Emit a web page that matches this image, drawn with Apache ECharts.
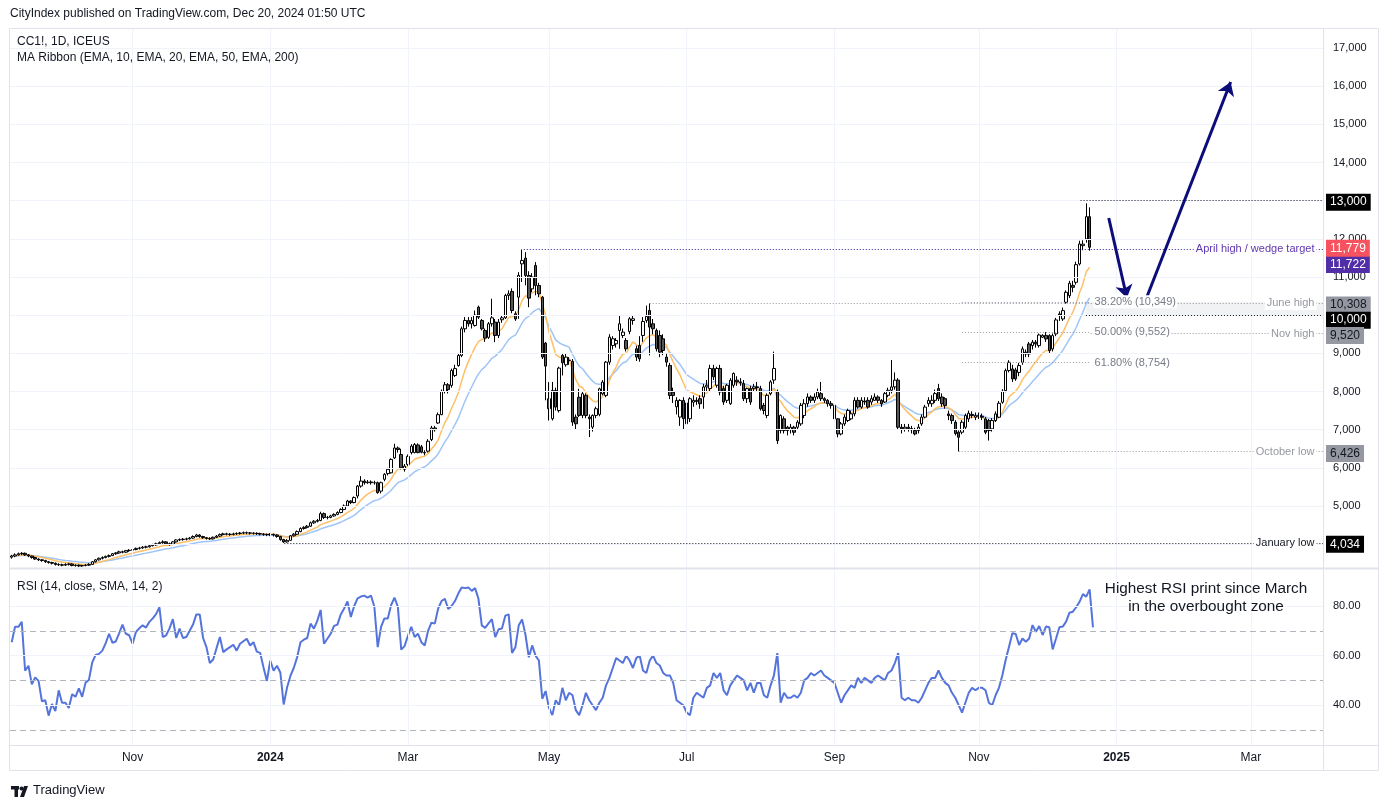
<!DOCTYPE html>
<html><head><meta charset="utf-8">
<script src="https://cdn.jsdelivr.net/npm/echarts@6/dist/echarts.min.js"></script>
<style>html,body{margin:0;padding:0;background:#fff;}#c{width:1386px;height:808px;}</style>
</head><body><div id="c"></div>
<script>
// ---------- categories ----------
const startDate = '2023-09-12';
const totalSlots = 391;
const holidays = ['2023-11-23','2023-12-25','2024-01-01','2024-01-15','2024-02-19','2024-03-29','2024-05-27','2024-06-19','2024-07-04','2024-09-02','2024-11-28','2024-12-25','2025-01-01','2025-01-20','2025-02-17'];
const monthTicks = [['2023-11-01','Nov',0],['2024-01-02','2024',1],['2024-03-01','Mar',0],['2024-05-01','May',0],['2024-07-01','Jul',0],['2024-09-03','Sep',0],['2024-11-01','Nov',0],['2025-01-02','2025',1],['2025-03-03','Mar',0]];

// ---------- candles [open, close, low, high] from 2023-09-12 ----------
const candles = [
[3660,3690,3620,3720],[3690,3720,3660,3760],[3720,3750,3700,3780],[3750,3760,3710,3790],[3760,3720,3690,3780],[3720,3690,3660,3740],[3690,3650,3620,3700],[3650,3610,3590,3670],[3610,3590,3560,3630],[3590,3570,3540,3610],
[3570,3540,3510,3590],[3540,3520,3490,3560],[3520,3500,3470,3540],[3500,3470,3440,3520],[3470,3460,3430,3500],[3460,3450,3420,3490],[3450,3470,3430,3500],[3470,3480,3440,3510],[3480,3440,3420,3500],[3440,3450,3410,3470],
[3450,3430,3400,3470],[3430,3440,3410,3460],[3440,3450,3420,3480],[3450,3470,3430,3500],[3470,3540,3460,3560],[3540,3590,3520,3610],[3590,3630,3570,3650],[3630,3650,3600,3680],[3650,3680,3630,3700],[3680,3700,3650,3730],
[3700,3750,3690,3770],[3750,3770,3720,3790],[3770,3800,3750,3830],[3800,3790,3760,3830],[3790,3830,3770,3850],[3830,3840,3800,3870],[3840,3860,3810,3880],[3860,3890,3840,3910],[3890,3900,3860,3930],[3900,3920,3880,3950],
[3920,3930,3890,3960],[3930,3960,3910,3990],[3960,3980,3940,4010],[3980,4010,3960,4040],[4010,4040,3990,4070],[4040,4060,4010,4100],[4060,4010,3990,4080],[4010,4000,3960,4040],[4000,4060,3990,4080],[4060,4110,4040,4130],
[4110,4120,4080,4150],[4120,4130,4090,4160],[4130,4140,4100,4170],[4140,4160,4120,4190],[4160,4200,4140,4230],[4200,4240,4180,4270],[4240,4200,4170,4260],[4200,4170,4140,4220],[4170,4150,4120,4190],[4150,4140,4110,4180],
[4140,4180,4120,4200],[4180,4210,4160,4240],[4210,4250,4190,4280],[4250,4270,4230,4300],[4270,4260,4230,4300],[4260,4255,4220,4290],[4255,4270,4230,4300],[4270,4280,4240,4310],[4280,4290,4250,4320],[4290,4300,4260,4330],
[4300,4295,4260,4330],[4295,4290,4250,4320],[4290,4285,4250,4310],[4285,4275,4240,4310],[4275,4265,4230,4300],[4265,4255,4220,4290],[4255,4250,4210,4280],
// 2024
[4250,4255,4210,4290],[4255,4240,4200,4280],[4240,4200,4170,4260],[4200,4120,4090,4220],[4120,4060,4034,4140],[4060,4100,4040,4130],[4100,4220,4090,4240],[4220,4260,4200,4290],[4260,4330,4240,4360],[4330,4410,4310,4440],
[4410,4440,4380,4470],[4440,4470,4410,4500],[4470,4560,4450,4590],[4560,4600,4530,4630],[4600,4620,4570,4660],[4620,4800,4600,4850],[4800,4700,4660,4830],[4700,4700,4650,4740],[4700,4740,4680,4770],[4740,4780,4720,4810],
[4780,4830,4760,4860],[4830,4910,4810,4940],[4910,5000,4890,5040],[5000,5130,4980,5160],[5130,5090,5050,5150],[5090,5220,5070,5250],[5262,5522,5200,5550],[5522,5653,5480,5783],[5653,5610,5560,5700],[5610,5630,5580,5680],
[5630,5610,5560,5670],[5610,5610,5560,5660],[5610,5350,5320,5640],[5390,5610,5330,5640],[5700,5830,5650,5860],[5850,5960,5800,6000],[5870,6220,5850,6250],[6260,6520,6230,6630],[6520,6480,6400,6560],[6350,6000,5960,6500],
[5960,6045,5900,6100],[6090,6300,6050,6350],[6400,6570,6350,6620],[6400,6610,6380,6650],[6600,6400,6380,6640],[6550,6410,6380,6600],[6400,6390,6330,6460],[6436,6697,6400,6750],[6740,7045,6700,7100],[7045,7000,6950,7100],
[7175,7393,7150,7450],[7393,8002,7380,8050],[8002,8176,7950,8250],[8176,8050,7950,8220],[8160,8550,8100,8600],[8420,8600,8380,8700],[8680,8945,8650,8990],[8945,9643,8900,9700],[9643,9861,9550,9950],[9861,9774,9700,9950],
[9774,9861,9650,9950],[9730,10000,9700,10120],[10210,9948,9900,10250],[9861,9643,9600,9900],[9600,9400,9300,9650],[9420,9774,9380,9820],[9774,9930,9700,10430],[9818,9468,9294,9900],[9468,9818,9400,9900],[9880,9930,9800,10000],
[9930,10516,9900,10560],[10516,10560,10400,10650],[10621,10123,10050,10700],[10036,9900,9850,10100],[10472,11040,9905,11127],[11345,11433,10870,11722],[11494,11040,10780,11650],[11040,10446,10210,11150],[10690,11000,10600,11100],[11302,10778,10520,11390],
[10778,10560,10470,10850],[10472,8901,8850,10500],[9267,8665,7770,9300],[7810,7548,7240,8246],[7286,8028,7240,8250],[8028,7591,7500,8100],[7500,8613,7450,8650],[8945,8752,8420,8990],[8700,8900,8650,9000],[8820,8810,8700,8900],
[8790,7199,7100,8850],[7330,7155,7000,7400],[7850,7373,7330,8070],[7373,7941,7300,8000],[7900,7373,7300,7950],[7330,7286,6806,7400],[7068,7373,6950,7400],[7373,7548,7300,7600],[7400,8070,7350,8100],[7941,8246,7900,8300],
[7897,8770,7850,8800],[8770,9425,8700,9500],[9206,9381,9100,9450],[9250,9337,9150,9400],[9600,9774,9119,9992],[9468,9556,9400,9650],[9337,9119,9050,9400],[9573,9905,9500,9950],[9861,9905,9750,10000],[9119,8901,8800,9200],
[9206,8857,8780,9450],[9468,9835,9300,9950],[9861,9966,9800,10250],[10123,9687,8945,10308],[9774,9643,9500,9900],[9600,9119,9050,9650],[9468,9032,8900,9600],[9381,9076,8950,9500],[8901,8770,8650,9000],[8683,7897,7800,8750],
[7984,7897,7700,8100],[7600,7766,7400,7850],[7330,7766,7100,7800],[7766,7286,7000,7850],[7700,7155,6980,7800],[7286,7810,7200,7850],[7720,7768,7600,7900],[7768,7740,7650,7850],[7812,7680,7548,7900],[7856,8120,7548,8200],
[8120,8164,8000,8300],[8076,8604,8000,8700],[8604,8384,8300,8700],[8164,8604,8100,8650],[8604,7988,7900,8700],[8076,7724,7650,8150],[7768,8164,7700,8200],[7680,8296,7650,8350],[8164,8472,8100,8500],[8296,8252,8150,8400],
[8252,8230,8150,8350],[8208,7812,7750,8300],[7812,8076,7700,8100],[8076,7724,7650,8150],[8076,8120,8000,8200],[8120,8100,8000,8250],[8076,7548,7500,8150],[7636,7504,7400,7700],[7372,7900,7300,7950],[7944,8252,7900,8300],
[8300,8604,8200,9044],[8000,6712,6624,8050],[6976,7372,6900,7400],[7284,6976,6900,7350],[7064,6976,6850,7100],[7000,7064,6900,7150],[7064,6932,6850,7100],[7064,7196,7000,7250],[7152,7636,7100,7700],[7372,7680,7300,7800],
[7680,7856,7600,7950],[7856,7768,7700,7900],[7768,7856,7700,7950],[7856,7988,7800,8076],[7944,7812,7750,8250],[7812,7768,7700,7850],[7768,7680,7600,7800],[7680,7636,7550,7750],[7636,7284,7200,7700],[7284,6888,6800,7300],
[6888,7152,6850,7200],[7152,7328,7100,7400],[7240,7504,7200,7550],[7284,7416,7250,7500],[7416,7768,7350,7850],[7768,7592,7550,7850],[7592,7768,7550,7850],[7750,7724,7650,7850],[7768,7592,7550,7850],[7724,7812,7650,7900],
[7768,7856,7750,7950],[7856,7768,7700,7900],[7768,7680,7600,7800],[7724,7944,7700,8000],[7900,8032,7850,8100],[8032,8120,7950,8824],[8120,8296,8050,8500],[8296,7064,7000,8350],[7064,7020,6900,7150],[7020,7064,6950,7150],
[7064,7030,6950,7150],[7030,7000,6900,7100],[6976,6888,6850,7050],[6976,7064,6900,7150],[7152,7328,7100,7400],[7328,7592,7300,7650],[7680,7768,7600,7850],[7680,7768,7600,7900],[7768,7944,7700,8050],[8076,7812,7750,8200],
[7856,7680,7600,7950],[7812,7636,7550,7850],[7413,7369,7250,7500],[7369,7238,7150,7420],[7195,6900,6850,7250],[6933,6802,6426,6980],[6933,7195,6880,7250],[7064,7369,7000,7420],[7282,7430,7200,7500],[7400,7369,7300,7480],
[7326,7369,7250,7450],[7369,7350,7280,7450],[7350,7326,7250,7420],[7282,6933,6880,7330],[7238,6976,6714,7280],[7020,7238,6950,7300],[7238,7413,7200,7480],[7326,7692,7300,7750],[7718,8006,7680,8060],[8024,8548,7980,8600],
[8548,8766,8500,8820],[8591,8330,8250,8700],[8565,8330,8280,8620],[8500,8679,8400,8750],[8766,9115,8700,9180],[9028,8984,8900,9100],[9246,8984,8900,9300],[9202,9290,9100,9350],[9290,9246,9150,9350],[9202,9480,9150,9520],
[9421,9470,9400,9500],[9470,9377,9300,9560],[9464,9071,9000,9500],[9115,9464,9050,9520],[9508,9875,9450,9930],[10032,9988,9850,10100],[9901,10119,9850,10200],[10337,10599,10300,10650],[10512,10835,10450,10900],[10780,10730,10600,10900],
[10861,11324,10800,11400],[11341,11865,11300,11950],[11821,11860,11700,11960],[11996,12581,11900,12931],[12581,11779,11690,12825]
];

// ---------- RSI(14) values from 2023-09-12 ----------
const rsi = [
65.4,71.6,71.6,73.6,53.9,55.9,48.4,51.2,49.8,41.6,42.0,35.8,40.5,37.6,46.0,41.0,41.0,38.9,44.4,43.4,46.8,43.4,49.1,50.2,57.3,60.3,60.7,62.0,
65,68.8,65.2,65.7,69,72.5,68.8,68.2,64.8,69.5,71,72.2,71.3,73.6,75,76.7,79.5,67.5,68.2,71,74.7,67.1,70.9,67.1,67.5,70,72.5,76.6,76.6,67.1,63.4,57,58.4,63,67.5,61.4,62.5,63.4,64.4,62,64.8,65.8,66.8,64.1,65.4,61.6,61.1,55.2,49.8,
58,53.9,55.9,53.2,40.3,47.1,51.8,55,59.3,65.4,66.4,67.1,72.9,70.9,74,78.4,64.8,66.8,68.8,72,72.5,76.6,79,81.8,75.6,80,83.1,83.8,84.2,83.4,84.2,79.7,63.4,71.6,75,75,80.4,83.4,79.7,62.4,63.8,68,71.6,67.5,68.8,65.4,64.1,70,73.3,72.9,79,82,82.9,78.8,80,82,85,87.5,87.2,87.5,86.1,87.2,82.9,72.2,71.2,73,74.7,67.5,70.6,70.9,76.1,76.6,61.1,63.4,72.2,74.6,68.4,59.3,64.1,60,58,42.6,45.7,38.9,36,42,40,47,
42,45,44,38,36,40,45,42,40,38,41,43,48,51,55,59,58,57,60,58,55,59,60,54,53,58,60,57,56,53,52,52,49,42,41,40,37,36,43,45,44,43,47,48,53,51,53,46,44,48,50,52,51,50,46,49,45,49,49,44,43,48,52,61,41,45,43,43,44,43,45,50,51,53,52,53,54,52,51,50,49,45,41,44,46,48,47,51,49,51,50,49,51,52,51,50,53,54,57,61,43,42,43,42,42,41,43,46,49,51,51,54,51,49,48,45,43,40,37,41,45,47,46,47,47,46,41,40,44,47,
52,58.2,63.6,69,68.7,64.3,66.9,65.6,66.9,72.3,69.6,71.9,68.3,71.7,71.4,62.5,66.9,71.4,71.7,73.7,77.3,77.7,79.5,81.7,84.8,83.8,86.7,71.4
];

// ---------- axis ticks ----------
const priceLabels = [5000,6000,7000,8000,9000,11000,12000,14000,15000,16000,17000];
const priceGrid = [4000,5000,6000,7000,8000,9000,10000,11000,12000,13000,14000,15000,16000,17000];
const rsiLabels = [40,60,80];
const rsiBands = [30,50,70];

// ---------- annotations ----------
const levelLines = [
  {v:13000, from:['2024-12-16',0.3], color:'#131722', box:'13,000', bg:'#000000', fg:'#ffffff', dy:1.5},
  {v:11722, from:['2024-04-19',0.5], color:'#311b92', box:'11,722', bg:'#512da8', fg:'#ffffff', dy:15, text:'April high / wedge target', tc:'#5e35b1'},
  {v:10308, from:['2024-06-13',0], color:'#9598a1', box:'10,308', bg:'#9598a1', fg:'#131722', dy:1.5, text:'June high', tc:'#9598a1'},
  {v:10000, from:['2024-12-17',0.9], color:'#131722', box:'10,000', bg:'#000000', fg:'#ffffff', dy:5},
  {v:9520, from:['2024-12-19',0.3], color:'#9598a1', box:'9,520', bg:'#9598a1', fg:'#131722', dy:2, text:'Nov high', tc:'#9598a1'},
  {v:6426, from:['2024-10-24',0], color:'#9598a1', box:'6,426', bg:'#9598a1', fg:'#131722', dy:2, text:'October low', tc:'#9598a1'},
  {v:4034, from:['2024-01-08',0.2], color:'#131722', box:'4,034', bg:'#000000', fg:'#ffffff', dy:1.5, text:'January low', tc:'#131722'}
];
const lastPrice = {v:11779, box:'11,779', bg:'#f7525f', fg:'#ffffff'};
const fibLevels = [['38.20%',10349],['50.00%',9552],['61.80%',8754]];
const fibSpan = [['2024-10-24',0.95],['2024-12-19',0.3]];
const band = [['2024-12-17',0.9],10000,10349];
const arrows = [
  [['2024-12-27',0.7],12546,['2025-01-07',0.1],10450],
  [['2025-01-14',0.7],10397,['2025-02-21',0],16109]
];
const textAnchor = ['2025-03-31',0];

// ---------- helpers ----------
function tradingDays(start, n, hol) {
  const out = [], hs = new Set(hol);
  const d = new Date(start + 'T00:00:00Z');
  while (out.length < n) {
    const wd = d.getUTCDay(), s = d.toISOString().slice(0,10);
    if (wd !== 0 && wd !== 6 && !hs.has(s)) out.push(s);
    d.setUTCDate(d.getUTCDate() + 1);
  }
  return out;
}
function ema(vals, n) { const k = 2/(n+1); let e = vals[0]; return vals.map((v,i) => (e = i === 0 ? v : v*k + e*(1-k))); }
const dates = tradingDays(startDate, totalSlots, holidays);
const at = (p) => dates.indexOf(p[0]) + p[1];
const closes = candles.map(r => r[1]);
const ema10 = ema(closes, 10).map(v => Math.round(v));
const ema20 = ema(closes, 20).map(v => Math.round(v));
const tickIdx = {}; monthTicks.forEach(t => { tickIdx[dates.indexOf(t[0])] = t; });
const FONT = "'Liberation Sans', Arial, sans-serif";
const jMax = totalSlots - 0.5;

const gridLineStyle = {color:'#f0f3fa', width:1, type:'solid'};
const mainGridLines = priceGrid.map(v => ({yAxis:v})).concat(monthTicks.map(t => ({xAxis: dates.indexOf(t[0])})));
const rsiGridLines = rsiLabels.map(v => ({yAxis:v})).concat(monthTicks.map(t => ({xAxis: dates.indexOf(t[0])})));

const levelML = [];
levelLines.forEach(L => {
  levelML.push([{coord:[at(L.from), L.v], lineStyle:{color:L.color, type:[1,2], width:1},
    label:{show:true, position:'end', distance:3, formatter:L.box, backgroundColor:L.bg, color:L.fg, padding:[3,4,2,4], fontSize:12, fontFamily:FONT, offset:[0,L.dy]}},
    {coord:[jMax, L.v]}]);
});
levelML.push([{coord:[jMax-1, lastPrice.v], lineStyle:{color:'rgba(255,255,255,0)', width:0},
  label:{show:true, position:'end', distance:3, formatter:lastPrice.box, backgroundColor:lastPrice.bg, color:lastPrice.fg, padding:[3,4,2,4], fontSize:12, fontFamily:FONT, offset:[0,1]}},
  {coord:[jMax, lastPrice.v]}]);
fibLevels.forEach(f => {
  levelML.push([{coord:[at(fibSpan[0]), f[1]], lineStyle:{color:'#9598a1', type:[1,2], width:1},
    label:{show:true, position:'end', distance:3, formatter:f[0] + ' (' + f[1].toLocaleString('en-US') + ')', color:'#787b86', fontSize:11, fontFamily:FONT, backgroundColor:'#ffffff', padding:[1,1]}},
    {coord:[at(fibSpan[1]), f[1]]}]);
});
const levelMP = levelLines.filter(L => L.text).map(L => ({
  coord:[at(textAnchor), L.v], symbol:'rect', symbolSize:1, itemStyle:{color:'rgba(0,0,0,0)'},
  label:{show:true, position:'left', distance:1, formatter:L.text, color:L.tc, fontSize:11, fontFamily:FONT, backgroundColor:'#ffffff', padding:[1,2]}
}));
const arrowML = arrows.map(a => [{coord:[at(a[0]), a[1]]},{coord:[at(a[2]), a[3]]}]);

const chart = echarts.init(document.getElementById('c'), null, {renderer:'canvas'});
chart.setOption({
  animation:false,
  backgroundColor:'#ffffff',
  grid:[
    {left:10, right:63, top:29, height:539},
    {left:10, right:63, top:569, height:176}
  ],
  xAxis:[
    {type:'category', gridIndex:0, data:dates, show:false},
    {type:'category', gridIndex:1, data:dates, axisLine:{show:false}, axisTick:{show:false}, splitLine:{show:false},
      axisLabel:{interval:(i) => !!tickIdx[i], margin:7, fontSize:12, fontFamily:FONT, color:'#131722',
        formatter:(v,i) => { const t = tickIdx[i]; if (!t) return ''; return t[2] ? '{b|' + t[1] + '}' : t[1]; },
        rich:{b:{fontWeight:'bold', fontSize:12, fontFamily:FONT, color:'#131722'}}}},
    {type:'value', gridIndex:0, min:-0.5, max:jMax, show:false},
    {type:'value', gridIndex:1, min:-0.5, max:jMax, show:false}
  ],
  yAxis:[
    {type:'value', gridIndex:0, position:'right', min:3375.5, max:17497.8, axisLine:{show:false}, axisTick:{show:false}, splitLine:{show:false},
      axisLabel:{customValues:priceLabels, margin:10, fontSize:11, fontFamily:FONT, color:'#131722', formatter:(v) => v.toLocaleString('en-US')}},
    {type:'value', gridIndex:1, position:'right', min:23.95, max:94.92, axisLine:{show:false}, axisTick:{show:false}, splitLine:{show:false},
      axisLabel:{customValues:rsiLabels, margin:10, fontSize:11, fontFamily:FONT, color:'#131722', formatter:(v) => v.toFixed(2)}}
  ],
  series:[
    {type:'scatter', name:'gridMain', xAxisIndex:2, yAxisIndex:0, data:[[0,4000]], symbolSize:0, silent:true, z:0,
      markLine:{silent:true, symbol:['none','none'], label:{show:false}, lineStyle:gridLineStyle, data:mainGridLines, animation:false}},
    {type:'scatter', name:'gridRsi', xAxisIndex:3, yAxisIndex:1, data:[[0,50]], symbolSize:0, silent:true, z:0,
      markLine:{silent:true, symbol:['none','none'], label:{show:false}, lineStyle:gridLineStyle,
        data:rsiGridLines.concat(rsiBands.map(v => ({yAxis:v, lineStyle:{color:'#b2b5be', type:[6,4], width:1}}))), animation:false}},
    {type:'line', name:'EMA 20', xAxisIndex:0, yAxisIndex:0, data:ema20, showSymbol:false, silent:true, z:1,
      lineStyle:{color:'#9fc5f8', width:1.5}},
    {type:'line', name:'EMA 10', xAxisIndex:0, yAxisIndex:0, data:ema10, showSymbol:false, silent:true, z:1,
      lineStyle:{color:'#ffbf66', width:1.5}},
    {type:'candlestick', name:'CC1!', xAxisIndex:0, yAxisIndex:0, data:candles, barWidth:3, z:2,
      itemStyle:{color:'#ffffff', color0:'#555555', borderColor:'#000000', borderColor0:'#000000', borderWidth:1}},
    {type:'scatter', name:'levels', xAxisIndex:2, yAxisIndex:0, data:[[0,4000]], symbolSize:0, silent:true, z:3, clip:false,
      markArea:{silent:true, itemStyle:{color:'rgba(120,123,134,0.1)'}, data:[[{coord:[at(band[0]), band[1]]},{coord:[jMax, band[2]]}]]},
      markLine:{silent:true, symbol:['none','none'], data:levelML, animation:false},
      markPoint:{silent:true, data:levelMP, animation:false}},
    {type:'scatter', name:'arrows', xAxisIndex:2, yAxisIndex:0, data:[[0,4000]], symbolSize:0, silent:true, z:4,
      markLine:{silent:true, symbol:['none','arrow'], symbolSize:13, label:{show:false}, lineStyle:{color:'#0d0d7a', width:3, type:'solid'}, data:arrowML, animation:false}},
    {type:'line', name:'RSI', xAxisIndex:1, yAxisIndex:1, data:rsi, showSymbol:false, silent:true, z:2,
      lineStyle:{color:'#5474dc', width:2}}
  ],
  graphic:[
    {type:'rect', z:50, shape:{x:9.5, y:28.5, width:1369, height:742}, style:{fill:'none', stroke:'#e0e3eb', lineWidth:1}, silent:true},
    {type:'line', z:50, shape:{x1:9, y1:568.5, x2:1378, y2:568.5}, style:{stroke:'#e0e3eb', lineWidth:2}, silent:true},
    {type:'line', z:50, shape:{x1:9, y1:745.5, x2:1378, y2:745.5}, style:{stroke:'#e0e3eb', lineWidth:1}, silent:true},
    {type:'line', z:50, shape:{x1:1323.5, y1:28, x2:1323.5, y2:770}, style:{stroke:'#e0e3eb', lineWidth:1}, silent:true},
    {type:'text', z:100, left:10, top:8, style:{text:'CityIndex published on TradingView.com, Dec 20, 2024 01:50 UTC', font:'12px ' + FONT, fill:'#131722'}},
    {type:'text', z:100, left:17, top:36, style:{text:'CC1!, 1D, ICEUS', font:'12px ' + FONT, fill:'#131722'}},
    {type:'text', z:100, left:17, top:52, style:{text:'MA Ribbon (EMA, 10, EMA, 20, EMA, 50, EMA, 200)', font:'12px ' + FONT, fill:'#131722'}},
    {type:'text', z:100, left:17, top:581, style:{text:'RSI (14, close, SMA, 14, 2)', font:'12px ' + FONT, fill:'#131722'}},
    {type:'text', z:100, x:1206, y:580, style:{text:'Highest RSI print since March\nin the overbought zone', font:'15.3px ' + FONT, fill:'#131722', align:'center', lineHeight:18}},
    {type:'rect', z:100, shape:{x:11, y:786, width:8, height:3.5}, style:{fill:'#131722'}},
    {type:'rect', z:100, shape:{x:14.5, y:786, width:3.5, height:11}, style:{fill:'#131722'}},
    {type:'circle', z:100, shape:{cx:21.5, cy:788.5, r:2}, style:{fill:'#131722'}},
    {type:'polygon', z:100, shape:{points:[[24,786],[28,786],[24,797],[20,797]]}, style:{fill:'#131722'}},
    {type:'text', z:100, left:33, top:784, style:{text:'TradingView', font:'13px ' + FONT, fill:'#131722'}}
  ]
});
</script></body></html>
